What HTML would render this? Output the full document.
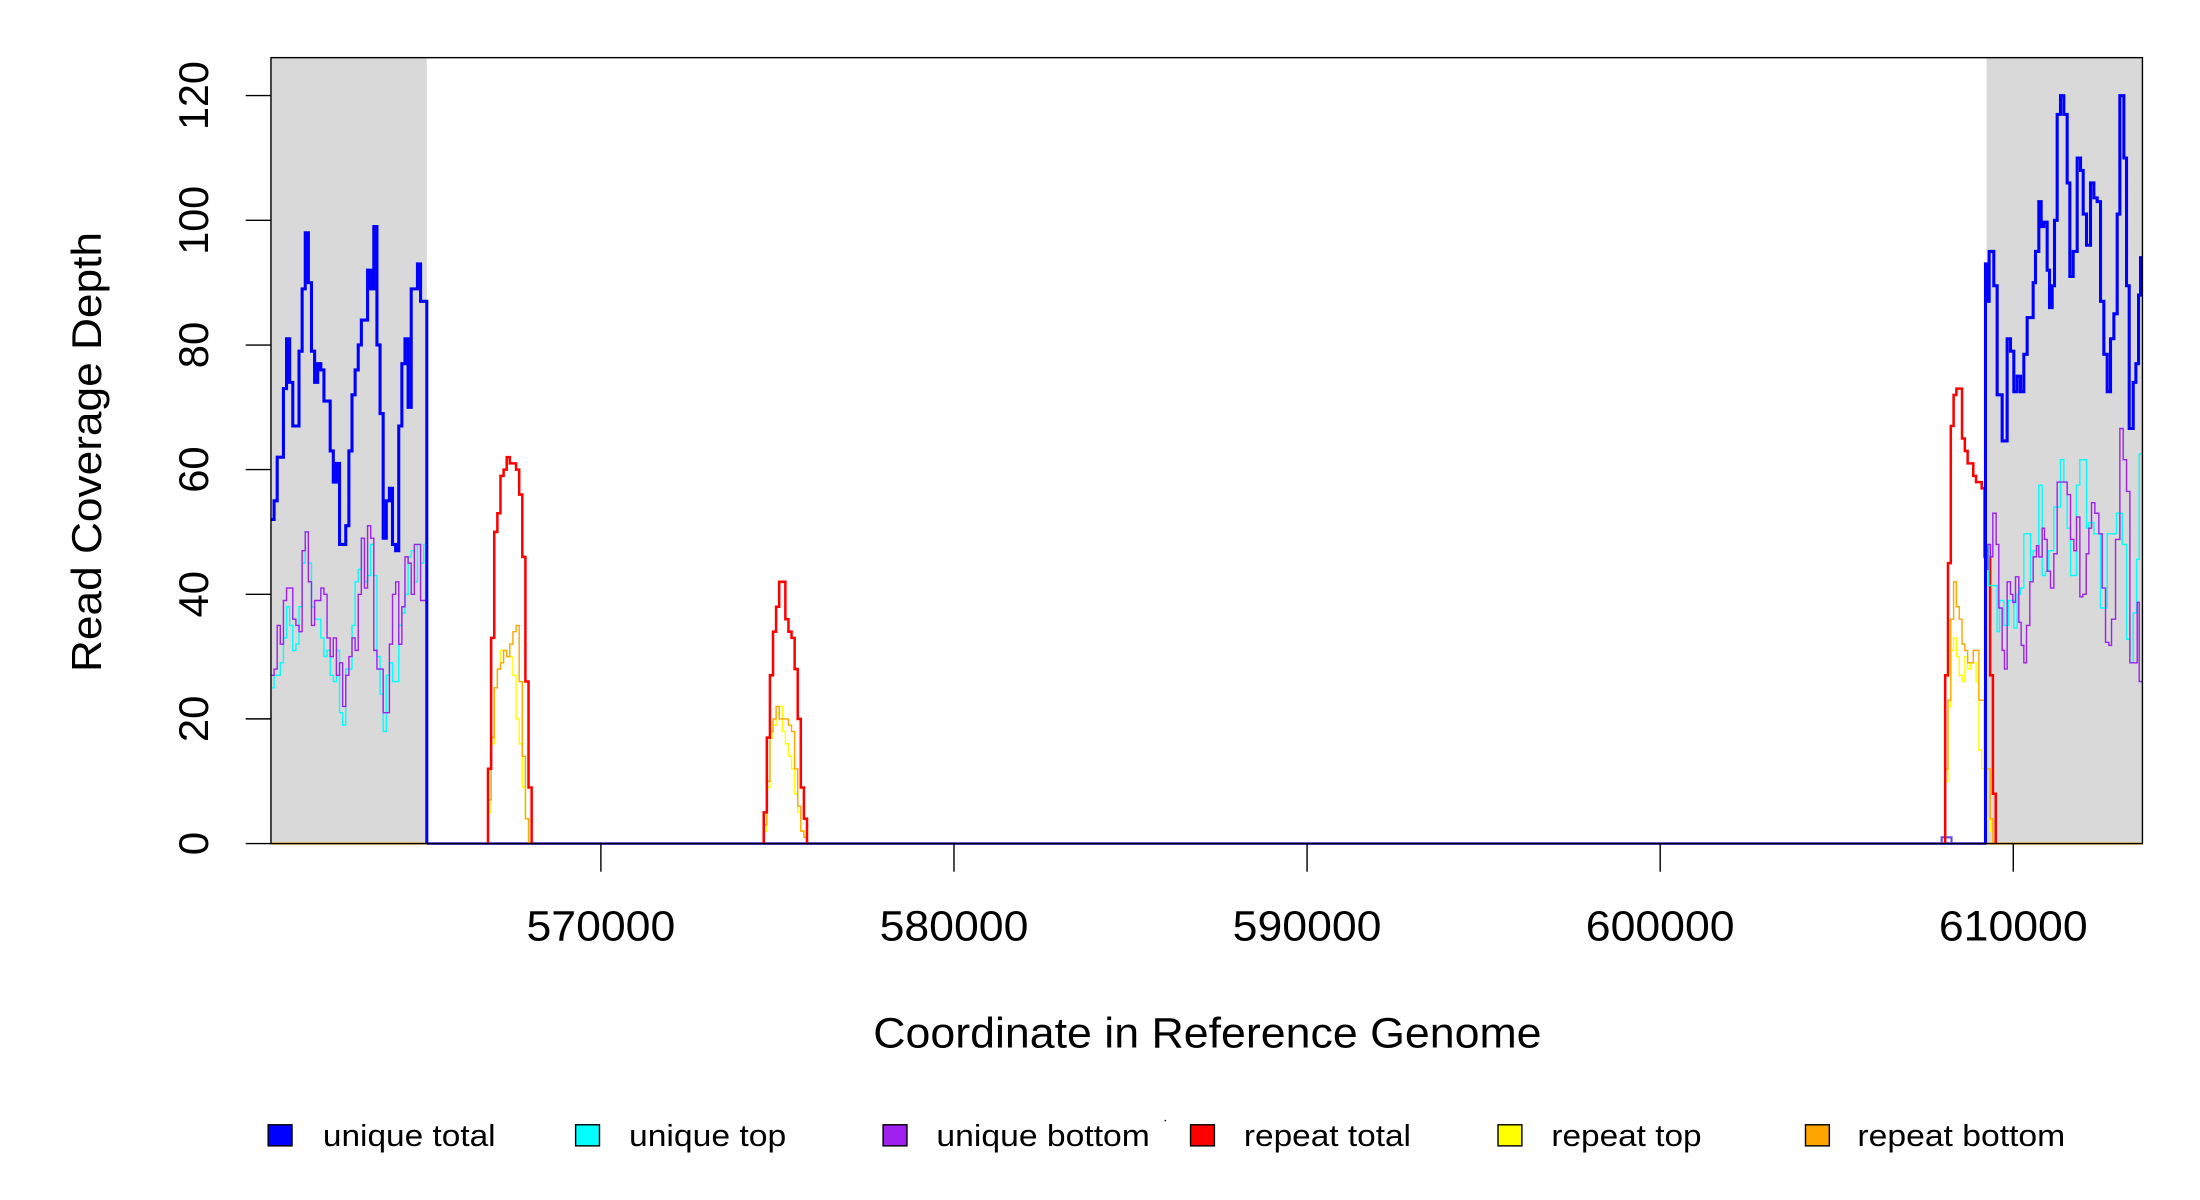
<!DOCTYPE html>
<html><head><meta charset="utf-8"><style>html,body{margin:0;padding:0;background:#fff;}svg{display:block;}</style></head>
<body>
<svg id="s" width="2200" height="1200" viewBox="0 0 1567 853.5" preserveAspectRatio="none" xmlns="http://www.w3.org/2000/svg" font-family="Liberation Sans, sans-serif">
<rect x="193" y="41" width="111" height="559" fill="#d9d9d9"/>
<rect x="1415" y="41" width="111" height="559" fill="#d9d9d9"/>
<g id="series" fill="none" stroke-linejoin="miter"></g>
<rect x="193" y="41" width="1333" height="559" fill="none" stroke="#000" stroke-width="1"/>
<g stroke="#000" stroke-width="1">
<line x1="175" y1="600" x2="193" y2="600"/><line x1="175" y1="511.3" x2="193" y2="511.3"/>
<line x1="175" y1="422.7" x2="193" y2="422.7"/><line x1="175" y1="334" x2="193" y2="334"/>
<line x1="175" y1="245.4" x2="193" y2="245.4"/><line x1="175" y1="156.7" x2="193" y2="156.7"/>
<line x1="175" y1="68" x2="193" y2="68"/>
<line x1="428" y1="600" x2="428" y2="620"/><line x1="679.5" y1="600" x2="679.5" y2="620"/>
<line x1="931" y1="600" x2="931" y2="620"/><line x1="1182.5" y1="600" x2="1182.5" y2="620"/>
<line x1="1434" y1="600" x2="1434" y2="620"/>
</g>
<g font-size="30" fill="#000" text-anchor="middle">
<text transform="translate(148,600) rotate(-90)">0</text>
<text transform="translate(148,511.3) rotate(-90)" textLength="33" lengthAdjust="spacingAndGlyphs">20</text>
<text transform="translate(148,422.7) rotate(-90)" textLength="33" lengthAdjust="spacingAndGlyphs">40</text>
<text transform="translate(148,334) rotate(-90)" textLength="33" lengthAdjust="spacingAndGlyphs">60</text>
<text transform="translate(148,245.4) rotate(-90)" textLength="33" lengthAdjust="spacingAndGlyphs">80</text>
<text transform="translate(148,156.7) rotate(-90)" textLength="49" lengthAdjust="spacingAndGlyphs">100</text>
<text transform="translate(148,68) rotate(-90)" textLength="49" lengthAdjust="spacingAndGlyphs">120</text>
<text x="428" y="669" textLength="106" lengthAdjust="spacingAndGlyphs">570000</text>
<text x="679.5" y="669" textLength="106" lengthAdjust="spacingAndGlyphs">580000</text>
<text x="931" y="669" textLength="106" lengthAdjust="spacingAndGlyphs">590000</text>
<text x="1182.5" y="669" textLength="106" lengthAdjust="spacingAndGlyphs">600000</text>
<text x="1434" y="669" textLength="106" lengthAdjust="spacingAndGlyphs">610000</text>
<text x="860" y="745" textLength="476" lengthAdjust="spacingAndGlyphs">Coordinate in Reference Genome</text>
<text transform="translate(72,321.5) rotate(-90)" textLength="313" lengthAdjust="spacingAndGlyphs">Read Coverage Depth</text>
</g>
<g stroke="#000" stroke-width="1">
<rect x="191" y="800" width="17" height="15" fill="#0000ff"/>
<rect x="410" y="800" width="17" height="15" fill="#00ffff"/>
<rect x="629" y="800" width="17" height="15" fill="#a020f0"/>
<rect x="848" y="800" width="17" height="15" fill="#ff0000"/>
<rect x="1067" y="800" width="17" height="15" fill="#ffff00"/>
<rect x="1286" y="800" width="17" height="15" fill="#ffa500"/>
</g>
<g font-size="22" fill="#000">
<text x="230" y="815" textLength="123" lengthAdjust="spacingAndGlyphs">unique total</text>
<text x="448" y="815" textLength="112" lengthAdjust="spacingAndGlyphs">unique top</text>
<text x="667" y="815" textLength="152" lengthAdjust="spacingAndGlyphs">unique bottom</text>
<text x="886" y="815" textLength="119" lengthAdjust="spacingAndGlyphs">repeat total</text>
<text x="1105" y="815" textLength="107" lengthAdjust="spacingAndGlyphs">repeat top</text>
<text x="1323" y="815" textLength="148" lengthAdjust="spacingAndGlyphs">repeat bottom</text>
</g>
<circle cx="830" cy="797" r="0.6" fill="#000"/>
</svg>
<script>
var Y=function(v){return 600-4.433*v;};
var g=document.getElementById('series');
function add(d,c,w){var p=document.createElementNS('http://www.w3.org/2000/svg','path');p.setAttribute('d',d);p.setAttribute('stroke',c);p.setAttribute('stroke-width',w);g.appendChild(p);}
function reg(x0,st,vals,fromZero,toZero){var d='',x=x0;
 if(fromZero){d='M'+x0+' '+Y(0)+' V'+Y(vals[0]);}else{d='M'+x0+' '+Y(vals[0]);}
 for(var i=0;i<vals.length;i++){ if(i>0) d+=' V'+Y(vals[i]); x=x0+st*(i+1); d+=' H'+x.toFixed(2);}
 if(toZero) d+=' V'+Y(0);
 return d;}
function disp(pts,endDx,fromZero,toZero){var X=function(dx){return 1318+dx/4.21;};var d='';
 d='M'+X(pts[0][0])+' '+(fromZero?Y(0)+' V'+Y(pts[0][1]):Y(pts[0][1]));
 for(var i=0;i<pts.length;i++){ if(i>0) d+=' V'+Y(pts[i][1]); var nx=(i+1<pts.length)?pts[i+1][0]:endDx; d+=' H'+X(nx).toFixed(2);}
 if(toZero) d+=' V'+Y(0); return d;}
add('M193 '+Y(0)+' H1526','#ffa500',1.5);
add('M304 '+Y(0)+' H1415','#5a4df0',2);
add('M1383 '+Y(0)+' V'+Y(1)+' H1390 V'+Y(0),'#5a4df0',1.5);
var st=2.22;
var bl=[52,55,62,62,73,81,74,67,67,79,89,98,90,79,74,77,76,71,71,63,58,61,48,48,51,63,72,76,80,84,84,92,89,99,80,69,49,55,57,48,47,67,77,81,70,89,89,93,87,87];
var cl=[25,27,27,29,33,38,35,31,32,38,45,50,45,38,36,36,33,30,31,27,26,31,21,19,28,28,35,42,44,49,42,43,48,43,30,24,18,27,29,26,26,35,37,40,46,47,42,48,45,48];
var pl=[27,28,35,32,39,41,41,36,35,34,47,50,42,35,39,39,41,40,33,30,33,27,29,22,27,30,33,31,40,49,41,51,49,31,28,28,21,21,32,40,42,32,38,46,45,40,48,48,39,39];
add(reg(193,st,cl,false,true),'#00ffff',1);
add(reg(193,st,pl,false,true),'#a020f0',1);
add(reg(193,st,bl,false,true),'#0000ff',2.2);
add(reg(347.6,st,[5,16,25,28,31,31,30,30,27,20,16,9,4],true,true),'#ffff00',1);
add(reg(347.6,st,[7,17,25,28,29,31,30,32,34,35,26,14,4],true,true),'#ffa500',1);
add(reg(347.6,st,[12,33,50,53,59,60,62,61,61,60,56,46,26,9],true,true),'#ff0000',1.8);
add(reg(544,2.2,[2,9,17,19,21,22,18,16,14,12,8,5,2,1],true,true),'#ffff00',1);
add(reg(544,2.2,[3,10,18,20,22,20,20,20,19,18,12,6,2,1],true,true),'#ffa500',1);
add(reg(544,2.2,[5,17,27,34,38,42,42,36,34,33,28,20,9,4],true,true),'#ff0000',1.8);
add(reg(1385.5,2,[10,22,31,33,30,27,26,30,28,29,29,26,15,12,8,4,2],true,true),'#ffff00',1);
add(reg(1385.5,2,[12,23,36,42,38,36,32,31,29,29,31,31,23,23,12,12,4],true,true),'#ffa500',1);
add(reg(1385.5,2,[27,45,67,72,73,73,65,63,61,61,59,58,58,57,46,46,27,8],true,true),'#ff0000',1.8);
var cr=[[405,48],[415,41.4],[440,34],[447,39],[460,35],[475,39],[490,34.6],[500,40],[510,41],[520,49.7],[540,42],[548,47],[565,57.5],[575,43],[585,43.7],[595,47],[610,54],[630,61.6],[640,58],[650,50.6],[660,43],[678,57.5],[688,61.6],[708,50.6],[715,51.5],[730,49.7],[750,37.8],[770,49.7],[798,53],[815,48],[828,32.8],[838,29],[848,37],[858,45.6],[866,62.5]];
var pr=[[405,44],[412,48],[420,46],[427,53],[437,48],[445,37.8],[455,31],[462,28],[470,42],[480,40],[487,38.7],[495,42.8],[505,35.5],[512,31.8],[520,29],[528,35],[538,42],[548,46],[558,47.8],[565,46],[575,50.6],[582,48.8],[590,43.7],[600,41],[610,46.5],[620,58],[650,56],[660,48.8],[670,47],[678,52.4],[688,39.6],[697,40],[707,46.5],[715,50.6],[723,54.7],[733,53],[745,49.7],[755,41],[765,32.3],[775,31.8],[783,36],[795,48.8],[808,66.6],[818,61.6],[828,56.5],[838,29],[860,38.7],[866,26]];
var br=[[405,93],[412,87],[416,95],[420,95],[430,89.5],[440,72],[455,64.6],[470,81],[480,79],[490,72.5],[500,75],[510,72.5],[520,78.5],[530,84.4],[548,90],[555,95],[565,103],[572,99],[580,99.7],[590,92],[597,86],[605,89.5],[612,100],[620,117],[630,120],[640,117],[650,106],[658,91],[668,95],[680,110],[690,108],[698,101],[708,96],[720,106],[730,103.6],[740,103],[750,87],[760,78.5],[770,72.5],[780,81],[790,85],[800,101],[808,120],[820,110],[828,89.5],[836,66.6],[848,74],[856,77],[864,88],[870,94]];
add(disp(cr,875,true,false),'#00ffff',1);
add(disp(pr,875,true,false),'#a020f0',1);
add(disp(br,875,true,false),'#0000ff',2.2);
</script>
</body></html>
